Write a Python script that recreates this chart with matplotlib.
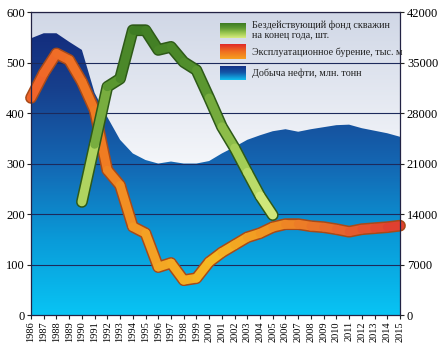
import numpy as np
import matplotlib
matplotlib.use("Agg")
import matplotlib.pyplot as plt
from matplotlib.colors import LinearSegmentedColormap
from matplotlib.collections import LineCollection
from matplotlib.patches import Polygon

# --- data -----------------------------------------------------------------
YEARS = list(range(1986, 2016))

OIL = [548, 558, 558, 541, 525, 440, 392, 347, 320, 307,
       300, 304, 300, 300, 305, 320, 333, 347, 356, 364,
       368, 363, 368, 372, 376, 377, 370, 365, 360, 353]

DRILLING = [430, 479, 518, 505, 462, 406, 287, 257, 175, 162,
            95, 103, 69, 73, 105, 124, 139, 154, 162, 174,
            180, 180, 176, 174, 170, 165, 170, 172, 174, 177]

WELL_YEARS = list(range(1990, 2006))
IDLE_WELLS = [224, 338, 452, 468, 564, 564, 525, 531, 501, 485,
              430, 373, 331, 283, 236, 198]

LEFT_TICKS = [0, 100, 200, 300, 400, 500, 600]
RIGHT_TICKS = [0, 7000, 14000, 21000, 28000, 35000, 42000]

LABELS = ["Бездействующий фонд скважин\nна конец года, шт.",
          "Эксплуатационное бурение, тыс. м",
          "Добыча нефти, млн. тонн"]

SERIF = "Liberation Serif"

# --- colours --------------------------------------------------------------
bg_cmap = LinearSegmentedColormap.from_list(
    "bg", ["#ffffff", "#f4f6fa", "#d0d7e6"])
oil_cmap = LinearSegmentedColormap.from_list(
    "oil", ["#08c4f4", "#0a9ad8", "#1466b2", "#173f8c", "#122678"])
green_cmap = LinearSegmentedColormap.from_list(
    "green", ["#d8ec80", "#9cc850", "#5e9a32", "#3c7a22"])
orange_cmap = LinearSegmentedColormap.from_list(
    "orange", ["#f0642a", "#f07a22", "#f4a424", "#f6b822",
               "#f09022", "#e86a2c", "#e04030"])

fig = plt.figure(figsize=(4.41, 3.54), dpi=100)
ax = fig.add_axes([0.0703, 0.110, 0.8367, 0.856])
ax.set_xlim(YEARS[0], YEARS[-1])
ax.set_ylim(0, 600)

# background gradient
grad = np.linspace(0, 1, 256).reshape(-1, 1)
ax.imshow(grad, extent=[YEARS[0], YEARS[-1], 0, 600], origin="lower",
          aspect="auto", cmap=bg_cmap, zorder=0)

# oil production area with vertical gradient
verts = list(zip(YEARS, OIL)) + [(YEARS[-1], 0), (YEARS[0], 0)]
poly = Polygon(verts, closed=True, facecolor="none", edgecolor="none")
ax.add_patch(poly)
im = ax.imshow(grad, extent=[YEARS[0], YEARS[-1], 0, 600], origin="lower",
               aspect="auto", cmap=oil_cmap, zorder=1)
im.set_clip_path(poly)

# grid
for v in LEFT_TICKS[1:]:
    ax.axhline(v, color="#1c2a5c", lw=0.8, zorder=2)


def thick_line(x, y, cmap, cvals, outline, z):
    # dark outline underneath
    ax.plot(x, y, color=outline, lw=8.5, solid_capstyle="round",
            solid_joinstyle="round", zorder=z, clip_on=False)
    pts = np.column_stack([x, y]).reshape(-1, 1, 2)
    segs = np.concatenate([pts[:-1], pts[1:]], axis=1)
    lc = LineCollection(segs, cmap=cmap, linewidths=6.3, capstyle="round",
                        joinstyle="round", zorder=z + 0.5, clip_on=False)
    lc.set_array(np.asarray(cvals))
    lc.set_clim(0, 1)
    ax.add_collection(lc)


# drilling: colour runs along the line
n = len(YEARS) - 1
thick_line(YEARS, DRILLING, orange_cmap, np.linspace(0, 1, n), "#a84a18", 4)

# idle wells: colour by height
gw = np.array(IDLE_WELLS, dtype=float)
mid = (gw[:-1] + gw[1:]) / 2
thick_line(WELL_YEARS, IDLE_WELLS, green_cmap, (mid - 200) / 370,
           "#2e5a18", 5)

# axes styling
ax.set_yticks(LEFT_TICKS)
ax.set_yticklabels([str(v) for v in LEFT_TICKS], family=SERIF, fontsize=9)
ax.set_xticks(YEARS)
ax.set_xticklabels([str(y) for y in YEARS], rotation=90, family=SERIF,
                   fontsize=7.5)
ax.tick_params(axis="both", direction="out", length=3, width=0.8,
               color="#222222", pad=1.5)
for s in ax.spines.values():
    s.set_color("#222244")
    s.set_linewidth(0.9)
    s.set_zorder(6)

ax2 = ax.twinx()
ax2.set_ylim(0, 42000)
ax2.set_yticks(RIGHT_TICKS)
ax2.set_yticklabels([str(v) for v in RIGHT_TICKS], family=SERIF, fontsize=9)
ax2.tick_params(axis="y", direction="out", length=3, width=0.8,
                color="#222222", pad=2)
for s in ax2.spines.values():
    s.set_visible(False)

# legend with gradient swatches
swatches = [
    (green_cmap, [0.499, 0.893, 0.057, 0.042]),
    (LinearSegmentedColormap.from_list("lg", ["#f6a020", "#f07020", "#e02828"]),
     [0.499, 0.833, 0.057, 0.042]),
    (LinearSegmentedColormap.from_list("lb", ["#10c0f0", "#1458a8", "#142a80"]),
     [0.499, 0.774, 0.057, 0.040]),
]
for cm, rect in swatches:
    sax = fig.add_axes(rect)
    sax.imshow(grad, origin="lower", aspect="auto", cmap=cm)
    sax.set_xticks([])
    sax.set_yticks([])
    for s in sax.spines.values():
        s.set_visible(False)

text_x = 0.571
fig.text(text_x, 0.915, LABELS[0], family=SERIF, fontsize=7.3,
         color="#222222", va="center", linespacing=1.05)
fig.text(text_x, 0.853, LABELS[1], family=SERIF, fontsize=7.3,
         color="#222222", va="center")
fig.text(text_x, 0.794, LABELS[2], family=SERIF, fontsize=7.3,
         color="#222222", va="center")

fig.savefig("out.png", dpi=100)
